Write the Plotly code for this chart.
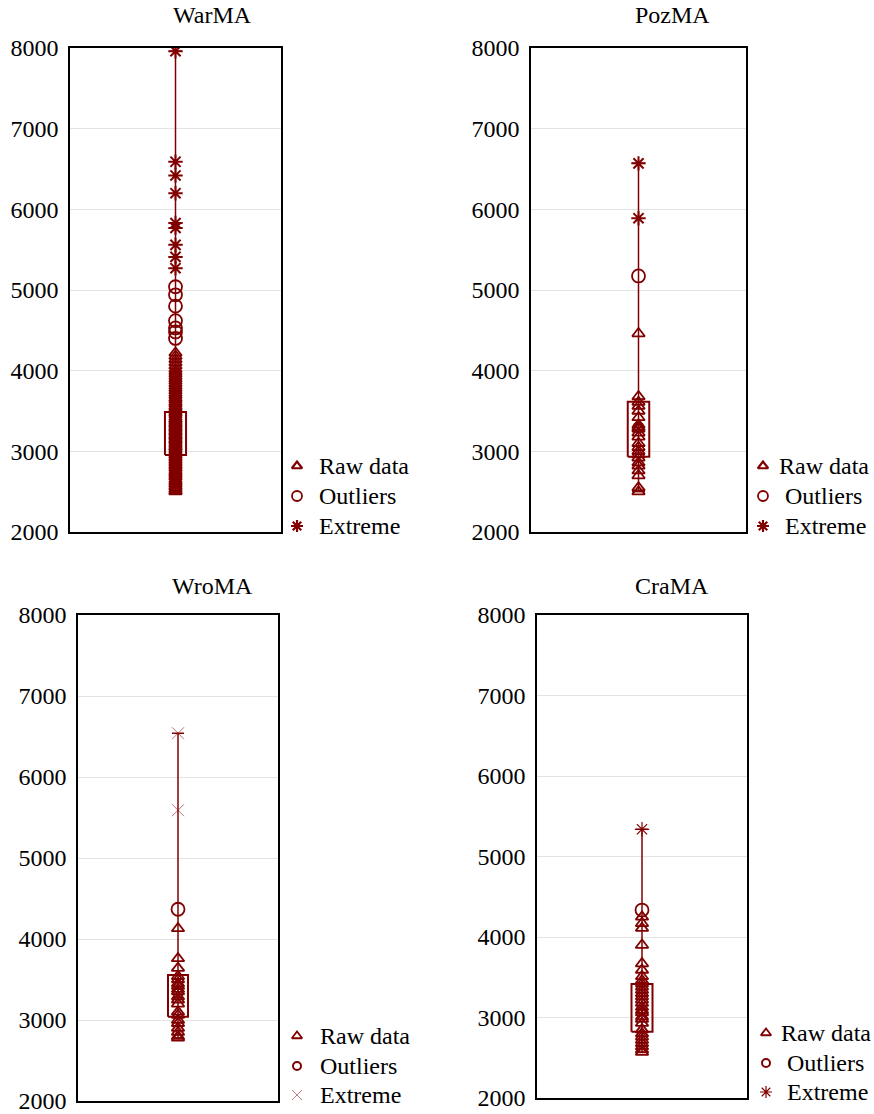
import plotly.graph_objects as go

# ---- data ----
names = ["WarMA", "PozMA", "WroMA", "CraMA"]

war_raw = [2500, 2510, 2530, 2550, 2570, 2590, 2610, 2630, 2650, 2680, 2700, 2720, 2740, 2760,
           2790, 2810, 2830, 2850, 2870, 2890, 2910, 2930, 2950, 2970, 2990, 3010, 3030, 3050,
           3060, 3080, 3100, 3120, 3140, 3150, 3170, 3190, 3200, 3220, 3240, 3250, 3270, 3290,
           3300, 3320, 3340, 3350, 3370, 3390, 3400, 3420, 3450, 3470, 3490, 3510, 3540, 3560,
           3590, 3610, 3640, 3660, 3690, 3720, 3750, 3780, 3810, 3840, 3870, 3900, 3930, 3960,
           3990, 4020, 4060, 4100, 4140, 4180, 4220]
war_out = [4400, 4480, 4530, 4620, 4800, 4940, 5040]
war_ext = [5270, 5410, 5560, 5770, 5830, 6200, 6420, 6590, 7960]
war_box = [2955, 3210, 3487]  # q1, median, q3

poz_raw = [2500, 2550, 2700, 2760, 2820, 2860, 2920, 2960, 3000, 3050, 3100, 3180, 3230,
           3280, 3300, 3330, 3420, 3500, 3560, 3610, 3680, 4460]
poz_out = [5174]
poz_ext = [5890, 6570]
poz_box = [2933, 3290, 3615]

wro_raw = [2780, 2800, 2850, 2900, 2960, 3000, 3060, 3100, 3200, 3250, 3290, 3350, 3380,
           3420, 3450, 3500, 3540, 3640, 3760, 4130]
wro_out = [4367]
wro_ext = [5590, 6540]
wro_box = [3041, 3330, 3556]

cra_raw = [2570, 2600, 2640, 2680, 2720, 2760, 2800, 2850, 2930, 2980, 3010, 3060, 3090,
           3130, 3180, 3220, 3260, 3300, 3340, 3380, 3420, 3460, 3510, 3590, 3670, 3900,
           4110, 4170, 4250]
cra_out = [4335]
cra_ext = [5338]
cra_box = [2824, 3100, 3416]

y_ticks = [2000, 3000, 4000, 5000, 6000, 7000, 8000]
legend_labels = ["Raw data", "Outliers", "Extreme"]

# ---- layout geometry (pixels of the 874x1114 canvas) ----
W, H = 874, 1114
RED = "#800000"
FONT = "Times New Roman, Liberation Serif, DejaVu Serif, serif"
FS = 24

def px(x):
    return x / W

def py(y):
    return 1 - y / H

domains = [
    ((70, 281), (48, 532)),
    ((531, 746), (48, 532)),
    ((78, 278), (615, 1101)),
    ((537, 747), (615, 1098)),
]
# legend: marker x, text x per row, row y's
legend_geo = [
    (297, [317, 317, 317], [466, 496, 526]),
    (763, [777, 783, 783], [466, 496, 526]),
    (297, [318, 318, 318], [1036, 1066, 1095]),
    (766, [779, 785, 785], [1033, 1063, 1092]),
]
title_pos = [(212, 15), (672, 15), (212, 586), (672, 586)]

tri = dict(symbol="triangle-up-open", size=11, color=RED, line=dict(width=1.8, color=RED))
circ = dict(symbol="circle-open", size=13, color=RED, line=dict(width=1.8, color=RED))
ext_markers = [
    dict(symbol="asterisk-open", size=12, color=RED, line=dict(width=2, color=RED)),
    dict(symbol="asterisk-open", size=12, color=RED, line=dict(width=2, color=RED)),
    dict(symbol="x-thin-open", size=12, color=RED, opacity=0.55, line=dict(width=1, color=RED)),
    dict(symbol="asterisk-open", size=12, color=RED, line=dict(width=1.2, color=RED)),
]
leg_markers = [
    [dict(symbol="triangle-up-open", size=9, color=RED, line=dict(width=2.2, color=RED)),
     dict(symbol="circle-open", size=10, color=RED, line=dict(width=1.8, color=RED)),
     dict(symbol="asterisk-open", size=10, color=RED, line=dict(width=2.2, color=RED))],
    [dict(symbol="triangle-up-open", size=9, color=RED, line=dict(width=2.2, color=RED)),
     dict(symbol="circle-open", size=10, color=RED, line=dict(width=1.8, color=RED)),
     dict(symbol="asterisk-open", size=10, color=RED, line=dict(width=2.2, color=RED))],
    [dict(symbol="triangle-up-open", size=9, color=RED, line=dict(width=1.8, color=RED)),
     dict(symbol="circle-open", size=8, color=RED, line=dict(width=2, color=RED)),
     dict(symbol="x-thin-open", size=10, color=RED, opacity=0.5, line=dict(width=1, color=RED))],
    [dict(symbol="triangle-up-open", size=9, color=RED, line=dict(width=1.8, color=RED)),
     dict(symbol="circle-open", size=8, color=RED, line=dict(width=2, color=RED)),
     dict(symbol="asterisk-open", size=10, color=RED, line=dict(width=1.2, color=RED))],
]

panels = [
    (war_raw, war_out, war_ext, war_box),
    (poz_raw, poz_out, poz_ext, poz_box),
    (wro_raw, wro_out, wro_ext, wro_box),
    (cra_raw, cra_out, cra_ext, cra_box),
]

fig = go.Figure()
BW = 0.05  # half box width in axis units
CW = 0.03  # half cap width

for i, (raw, out, ext, box) in enumerate(panels):
    n = "" if i == 0 else str(i + 1)
    xa, ya = "x" + n, "y" + n
    allv = raw + out + ext
    lo, hi = min(allv), max(allv)
    q1, med, q3 = box
    fig.add_trace(go.Scatter(x=[0.5, 0.5, None, 0.5 - CW, 0.5 + CW, None, 0.5 - CW, 0.5 + CW],
                             y=[lo, hi, None, lo, lo, None, hi, hi], mode="lines",
                             line=dict(color=RED, width=1.5), showlegend=False,
                             xaxis=xa, yaxis=ya, hoverinfo="skip"))
    fig.add_trace(go.Scatter(x=[0.5 - BW, 0.5 + BW, 0.5 + BW, 0.5 - BW, 0.5 - BW],
                             y=[q1, q1, q3, q3, q1], mode="lines",
                             line=dict(color=RED, width=2), showlegend=False,
                             xaxis=xa, yaxis=ya, hoverinfo="skip"))
    fig.add_trace(go.Scatter(x=[0.5], y=[med], mode="markers",
                             marker=dict(symbol="square-open", size=8, color=RED, line=dict(width=1.5)),
                             showlegend=False, xaxis=xa, yaxis=ya))
    fig.add_trace(go.Scatter(x=[0.5] * len(raw), y=raw, mode="markers", name=legend_labels[0],
                             marker=tri, showlegend=False, xaxis=xa, yaxis=ya))
    fig.add_trace(go.Scatter(x=[0.5] * len(out), y=out, mode="markers", name=legend_labels[1],
                             marker=circ, showlegend=False, xaxis=xa, yaxis=ya))
    fig.add_trace(go.Scatter(x=[0.5] * len(ext), y=ext, mode="markers", name=legend_labels[2],
                             marker=ext_markers[i], showlegend=False, xaxis=xa, yaxis=ya))

    (x0, x1), (y0, y1) = domains[i]
    fig.layout["xaxis" + n] = dict(domain=[px(x0), px(x1)], range=[0, 1], showgrid=False,
                                   zeroline=False, showticklabels=False, ticks="",
                                   showline=True, mirror=True, linecolor="black", linewidth=1.5,
                                   anchor=ya, fixedrange=True, automargin=False)
    fig.layout["yaxis" + n] = dict(domain=[py(y1), py(y0)], range=[2000, 8000],
                                   tickvals=y_ticks, ticktext=[str(t) for t in y_ticks],
                                   showgrid=True, gridcolor="#e3e3e3", gridwidth=1,
                                   zeroline=False, ticks="", ticklabelstandoff=5,
                                   ticklabeloverflow="allow",
                                   showline=True, mirror=True, linecolor="black", linewidth=1.5,
                                   tickfont=dict(family=FONT, size=FS, color="black"),
                                   anchor=xa, fixedrange=True, automargin=False)
    tx, ty = title_pos[i]
    fig.add_annotation(text=names[i], x=px(tx), y=py(ty), xref="paper", yref="paper",
                       xanchor="center", yanchor="middle", showarrow=False,
                       font=dict(family=FONT, size=FS, color="black"))

# ---- per-panel legends drawn on a full-canvas overlay axis (pixel units) ----
fig.layout["xaxis5"] = dict(domain=[0, 1], range=[0, W], visible=False, fixedrange=True,
                            anchor="y5", automargin=False)
fig.layout["yaxis5"] = dict(domain=[0, 1], range=[H, 0], visible=False, fixedrange=True,
                            anchor="x5", automargin=False)
for i in range(4):
    mx, txs, rys = legend_geo[i]
    for k in range(3):
        fig.add_trace(go.Scatter(x=[mx], y=[rys[k]], mode="markers", marker=leg_markers[i][k],
                                 showlegend=False, xaxis="x5", yaxis="y5", hoverinfo="skip"))
        fig.add_annotation(text=legend_labels[k], x=txs[k], y=rys[k], xref="x5", yref="y5",
                           xanchor="left", yanchor="middle", showarrow=False,
                           font=dict(family=FONT, size=FS, color="black"))

fig.update_layout(template="none", width=W, height=H, margin=dict(l=0, r=0, t=0, b=0, pad=0),
                  font=dict(family=FONT, size=FS, color="black"),
                  paper_bgcolor="white", plot_bgcolor="rgba(0,0,0,0)", showlegend=False)
fig.write_html("out.html", config={"responsive": False, "displayModeBar": False},
               post_script="document.body.style.margin='0';document.body.style.padding='0';")
